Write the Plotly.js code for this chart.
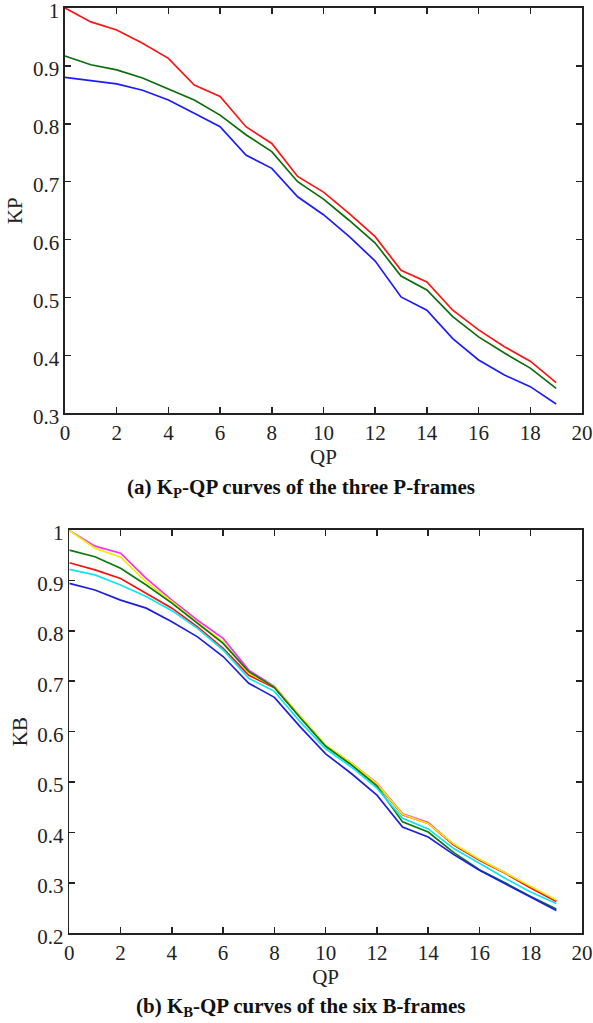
<!DOCTYPE html>
<html>
<head>
<meta charset="utf-8">
<script src="https://cdn.plot.ly/plotly-3.0.1.min.js"></script>
<style>
html,body{margin:0;padding:0;background:#fff;}
#chart{width:593px;height:1023px;}
</style>
</head>
<body>
<div id="chart"></div>
<script>
// QP values (shared x axis)
var qp = [0,1,2,3,4,5,6,7,8,9,10,11,12,13,14,15,16,17,18,19];

// (a) KP-QP curves of the three P-frames
var kpRed   = [1.000,0.976,0.962,0.939,0.913,0.867,0.847,0.795,0.766,0.709,0.682,0.645,0.605,0.547,0.527,0.478,0.444,0.415,0.390,0.353];
var kpGreen = [0.917,0.902,0.893,0.879,0.860,0.841,0.815,0.781,0.752,0.700,0.670,0.633,0.594,0.537,0.513,0.467,0.432,0.404,0.378,0.343];
var kpBlue  = [0.880,0.874,0.869,0.858,0.841,0.818,0.795,0.746,0.723,0.674,0.643,0.605,0.563,0.501,0.478,0.429,0.392,0.366,0.346,0.316];

// (b) KB-QP curves of the six B-frames
var kbMagenta = [0.999,0.968,0.954,0.904,0.861,0.821,0.785,0.722,0.690,0.630,0.572,0.538,0.498,0.437,0.420,0.376,0.346,0.320,0.291,0.264];
var kbYellow  = [0.999,0.964,0.946,0.897,0.858,0.816,0.778,0.716,0.689,0.630,0.573,0.538,0.497,0.436,0.418,0.377,0.347,0.320,0.293,0.266];
var kbGreen   = [0.960,0.947,0.924,0.891,0.855,0.815,0.775,0.719,0.688,0.628,0.571,0.534,0.492,0.421,0.401,0.360,0.326,0.300,0.273,0.248];
var kbRed     = [0.935,0.921,0.904,0.874,0.845,0.808,0.765,0.712,0.687,0.629,0.572,0.536,0.496,0.435,0.418,0.375,0.345,0.319,0.290,0.263];
var kbCyan    = [0.922,0.911,0.891,0.868,0.840,0.805,0.762,0.706,0.680,0.620,0.566,0.530,0.488,0.428,0.407,0.368,0.339,0.309,0.282,0.259];
var kbBlue    = [0.894,0.881,0.861,0.845,0.818,0.788,0.749,0.696,0.668,0.610,0.556,0.517,0.474,0.411,0.391,0.356,0.325,0.298,0.271,0.245];

var xTicks = [0,2,4,6,8,10,12,14,16,18,20];
var captionA = "<b>(a) K<sub>P</sub>-QP curves of the three P-frames</b>";
var captionB = "<b>(b) K<sub>B</sub>-QP curves of the six B-frames</b>";

function line(y, color, xa, ya){
  return {x: qp, y: y, type:'scatter', mode:'lines', xaxis:xa, yaxis:ya,
          line:{color:color, width:1.7}, hoverinfo:'skip', showlegend:false};
}

var traces = [
  line(kpBlue,  '#1c1cff','x','y'),
  line(kpGreen, '#0b6e0b','x','y'),
  line(kpRed,   '#ff1414','x','y'),
  line(kbMagenta,'#ff2cff','x2','y2'),
  line(kbRed,    '#ff1010','x2','y2'),
  line(kbYellow, '#f2ee00','x2','y2'),
  line(kbGreen,  '#0b7a0b','x2','y2'),
  line(kbCyan,   '#10e4f0','x2','y2'),
  line(kbBlue,   '#1f1fe0','x2','y2')
];

var font = {family:'"Liberation Serif", "Times New Roman", serif', size:21, color:'#222'};

function xax(dom, anchor){
  return {domain:dom, anchor:anchor, range:[0,20], tickvals:xTicks, ticks:'inside', ticklen:6,
    tickwidth:1.5, tickcolor:'#222', showline:true, linecolor:'#222', linewidth:1.6, mirror:'ticks',
    showgrid:false, zeroline:false, tickfont:font, automargin:false, ticklabeloverflow:'allow',
    title:{text:'QP', font:font, standoff:0}};
}
function yax(dom, anchor, r, title){
  return {domain:dom, anchor:anchor, range:r, dtick:0.1, tick0:0, ticks:'inside', ticklen:6,
    tickwidth:1.5, tickcolor:'#222', showline:true, linecolor:'#222', linewidth:1.6, mirror:'ticks',
    showgrid:false, zeroline:false, tickfont:font, automargin:false, ticklabeloverflow:'allow',
    ticklabelshift:3,
    title:{text:title, font:font, standoff:4}};
}

var layout = {
  width:593, height:1023,
  margin:{l:0,r:0,t:0,b:0},
  paper_bgcolor:'#fff', plot_bgcolor:'#fff',
  font:font,
  xaxis: xax([0.1096,0.9814],'y'),
  yaxis: yax([0.5960,0.9922],'x',[0.3,1],'KP'),
  xaxis2: xax([0.1169,0.9814],'y2'),
  yaxis2: yax([0.0877,0.4819],'x2',[0.2,1],'KB'),
  annotations:[
    {text:captionA, xref:'paper', yref:'paper', x:0.508, y:1-488/1023, showarrow:false,
     xanchor:'center', yanchor:'middle', font:{family:font.family, size:21, color:'#111'}},
    {text:captionB, xref:'paper', yref:'paper', x:0.506, y:1-1007/1023, showarrow:false,
     xanchor:'center', yanchor:'middle', font:{family:font.family, size:21, color:'#111'}}
  ]
};

Plotly.newPlot('chart', traces, layout, {staticPlot:true, displayModeBar:false});
</script>
</body>
</html>
